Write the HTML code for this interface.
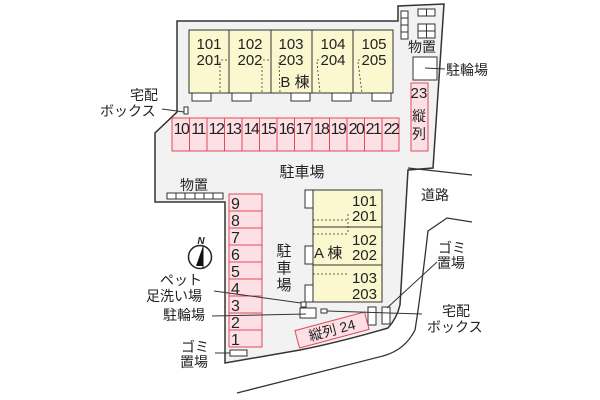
<!DOCTYPE html>
<html><head><meta charset="utf-8"><style>
html,body{margin:0;padding:0;background:#fff}
svg{display:block}
text{font-family:"Liberation Sans","Noto Sans CJK JP",sans-serif;fill:#222}
</style></head><body>
<svg width="600" height="400" viewBox="0 0 600 400" xmlns="http://www.w3.org/2000/svg">
<path d="M177,21 L398,21 L398,6 L444,4 L433,168 L408,170 L400,305 Q397,318 388,328 Q340,342 300,350 L225,363 L225,202 L155,202 L155,133 L177,112 Z" fill="#f2f2f2" stroke="#333" stroke-width="1.5"/>
<path d="M408,168 L472,175" fill="none" stroke="#333" stroke-width="1.3"/>
<path d="M472,222 L447,218 L428,231 Q420,300 415,330 Q405,350 383,356 L237,393" fill="none" stroke="#333" stroke-width="1.3"/>
<rect x="189" y="30" width="204" height="63" fill="#fbf8d0" stroke="#333" stroke-width="1"/>
<g stroke="#333" stroke-width="1"><line x1="229" y1="30" x2="229" y2="93"/><line x1="271" y1="30" x2="271" y2="93"/><line x1="312" y1="30" x2="312" y2="93"/><line x1="353" y1="30" x2="353" y2="93"/></g>
<g stroke="#333" stroke-width="0.8" stroke-dasharray="2,2" fill="none">
<path d="M221,60 L229,60 M220,62 L220,93"/>
<path d="M263,60 L271,60 M262,66 L262,93"/>
<path d="M279,60 L282,60 M279,62 L280,93"/>
<path d="M317,60 L320,60 M317,62 L320,93"/>
<path d="M358,60 L361,60 M358,62 L362,93"/>
</g>
<g fill="#fff" stroke="#333" stroke-width="1">
<rect x="192" y="93" width="19" height="8"/><rect x="232" y="93" width="19" height="8"/><rect x="291" y="93" width="19" height="8"/><rect x="332" y="93" width="19" height="8"/><rect x="372" y="93" width="19" height="8"/>
</g>
<g font-size="15" text-anchor="middle">
<text x="209" y="49">101</text><text x="209" y="65">201</text>
<text x="250" y="49">102</text><text x="250" y="65">202</text>
<text x="291" y="49">103</text><text x="291" y="65">203</text>
<text x="333" y="49">104</text><text x="333" y="65">204</text>
<text x="374" y="49">105</text><text x="374" y="65">205</text>
</g>
<text x="295" y="87" font-size="15" text-anchor="middle">B 棟</text>
<rect x="172" y="118" width="227" height="33" fill="#fde0e6" stroke="#e24a5a"/>
<g stroke="#e24a5a" stroke-width="1">
<line x1="189.5" y1="118" x2="189.5" y2="151"/><line x1="207" y1="118" x2="207" y2="151"/><line x1="224.5" y1="118" x2="224.5" y2="151"/><line x1="242" y1="118" x2="242" y2="151"/><line x1="259.5" y1="118" x2="259.5" y2="151"/><line x1="277" y1="118" x2="277" y2="151"/><line x1="294.5" y1="118" x2="294.5" y2="151"/><line x1="312" y1="118" x2="312" y2="151"/><line x1="329.5" y1="118" x2="329.5" y2="151"/><line x1="347" y1="118" x2="347" y2="151"/><line x1="364.5" y1="118" x2="364.5" y2="151"/><line x1="382" y1="118" x2="382" y2="151"/>
</g>
<g font-size="16" text-anchor="middle" letter-spacing="-1.5">
<text x="181" y="134">10</text><text x="198" y="134">11</text><text x="216" y="134">12</text><text x="233" y="134">13</text><text x="251" y="134">14</text><text x="268" y="134">15</text><text x="286" y="134">16</text><text x="303" y="134">17</text><text x="321" y="134">18</text><text x="338" y="134">19</text><text x="356" y="134">20</text><text x="373" y="134">21</text><text x="391" y="134">22</text>
</g>
<rect x="411" y="83" width="17" height="68" fill="#fde0e6" stroke="#e24a5a"/>
<text x="419" y="98" font-size="15" text-anchor="middle">23</text>
<text x="419" y="121" font-size="14" text-anchor="middle">縦</text>
<text x="419" y="139" font-size="14" text-anchor="middle">列</text>
<g fill="#fff" stroke="#333" stroke-width="1">
<rect x="401" y="11" width="7" height="7"/><rect x="401" y="18" width="7" height="7"/><rect x="401" y="25" width="7" height="7"/><rect x="401" y="32" width="7" height="7"/>
<rect x="418" y="9" width="17" height="7"/><line x1="426.5" y1="9" x2="426.5" y2="16"/>
<rect x="418" y="24" width="17" height="14"/><line x1="426.5" y1="24" x2="426.5" y2="38"/><line x1="418" y1="31" x2="435" y2="31"/>
<rect x="413" y="57" width="24" height="23"/>
</g>
<text x="408" y="52" font-size="14">物置</text>
<line x1="425" y1="68" x2="445" y2="69" stroke="#333"/>
<text x="446" y="75" font-size="14">駐輪場</text>
<rect x="184" y="107" width="4" height="7" fill="#fff" stroke="#333"/>
<line x1="162" y1="109" x2="184" y2="112" stroke="#333"/>
<text x="130" y="100" font-size="14">宅配</text>
<text x="100" y="116" font-size="14">ボックス</text>
<text x="302" y="177" font-size="15" text-anchor="middle">駐車場</text>
<text x="180" y="190" font-size="14">物置</text>
<rect x="167" y="193" width="56" height="6" fill="#fff" stroke="#333"/>
<g stroke="#333"><line x1="176" y1="193" x2="176" y2="199"/><line x1="185" y1="193" x2="185" y2="199"/><line x1="195" y1="193" x2="195" y2="199"/><line x1="204" y1="193" x2="204" y2="199"/><line x1="213" y1="193" x2="213" y2="199"/></g>
<rect x="229" y="194" width="33" height="153" fill="#fde0e6" stroke="#e24a5a"/>
<g stroke="#e24a5a"><line x1="229" y1="211" x2="262" y2="211"/><line x1="229" y1="228" x2="262" y2="228"/><line x1="229" y1="245" x2="262" y2="245"/><line x1="229" y1="262" x2="262" y2="262"/><line x1="229" y1="279" x2="262" y2="279"/><line x1="229" y1="296" x2="262" y2="296"/><line x1="229" y1="313" x2="262" y2="313"/><line x1="229" y1="330" x2="262" y2="330"/></g>
<g font-size="16">
<text x="231" y="209">9</text><text x="231" y="226">8</text><text x="231" y="243">7</text><text x="231" y="260">6</text><text x="231" y="277">5</text><text x="231" y="294">4</text><text x="231" y="311">3</text><text x="231" y="328">2</text><text x="231" y="345">1</text>
</g>
<rect x="313" y="190" width="69" height="112" fill="#fbf8d0" stroke="#333"/>
<g stroke="#333"><line x1="313" y1="227" x2="382" y2="227"/><line x1="313" y1="265" x2="382" y2="265"/></g>
<g stroke="#333" stroke-width="0.8" stroke-dasharray="2,2"><line x1="313" y1="220" x2="348" y2="220"/><line x1="348" y1="214" x2="348" y2="232"/><line x1="313" y1="234" x2="348" y2="234"/><line x1="313" y1="274" x2="348" y2="274"/></g>
<g fill="#fff" stroke="#333"><rect x="305" y="190" width="8" height="18"/><rect x="305" y="246" width="8" height="18"/><rect x="305" y="285" width="8" height="17"/></g>
<g font-size="15" text-anchor="end"><text x="377" y="206">101</text><text x="377" y="221">201</text><text x="377" y="245">102</text><text x="377" y="260">202</text><text x="377" y="283">103</text><text x="377" y="299">203</text></g>
<text x="314" y="258" font-size="15">A 棟</text>
<text x="284" y="256" font-size="15" text-anchor="middle">駐</text>
<text x="284" y="273" font-size="15" text-anchor="middle">車</text>
<text x="284" y="290" font-size="15" text-anchor="middle">場</text>
<text x="421" y="200" font-size="14">道路</text>
<circle cx="200" cy="257" r="11.5" fill="#fff" stroke="#222" stroke-width="1.5"/>
<path d="M203,246 L196,266 L203,266 Z" fill="#111"/>
<line x1="203" y1="246" x2="203" y2="268" stroke="#111"/>
<text x="201" y="244" font-size="10" font-weight="bold" font-style="italic" text-anchor="middle">N</text>
<rect x="301" y="302" width="5" height="5" fill="#fff" stroke="#333"/>
<rect x="300" y="308" width="16" height="10" fill="#fff" stroke="#333"/>
<rect x="321" y="309" width="6" height="4" fill="#fff" stroke="#333"/>
<rect x="368" y="307" width="8" height="18" fill="#fff" stroke="#333"/>
<rect x="382" y="307" width="8" height="17" fill="#fff" stroke="#333"/>
<g transform="translate(332,330) rotate(-15)">
<rect x="-36" y="-9" width="72" height="18" fill="#fde0e6" stroke="#e24a5a"/>
<text x="0" y="5" font-size="14" text-anchor="middle">縦列 24</text>
</g>
<g stroke="#333" stroke-width="1" fill="none">
<line x1="214" y1="291" x2="301" y2="303"/>
<line x1="212" y1="316" x2="306" y2="314"/>
<line x1="327" y1="311" x2="422" y2="314"/>
<line x1="387" y1="308" x2="437" y2="262"/>
<line x1="215" y1="353" x2="230" y2="353"/>
</g>
<rect x="230" y="350" width="17" height="6" fill="#fff" stroke="#333"/>
<g font-size="14">
<text x="160" y="285">ペット</text>
<text x="146" y="301">足洗い場</text>
<text x="163" y="320">駐輪場</text>
<text x="181" y="352">ゴミ</text>
<text x="180" y="367">置場</text>
<text x="438" y="253">ゴミ</text>
<text x="437" y="268">置場</text>
<text x="442" y="316">宅配</text>
<text x="427" y="332">ボックス</text>
</g>
</svg>
</body></html>
